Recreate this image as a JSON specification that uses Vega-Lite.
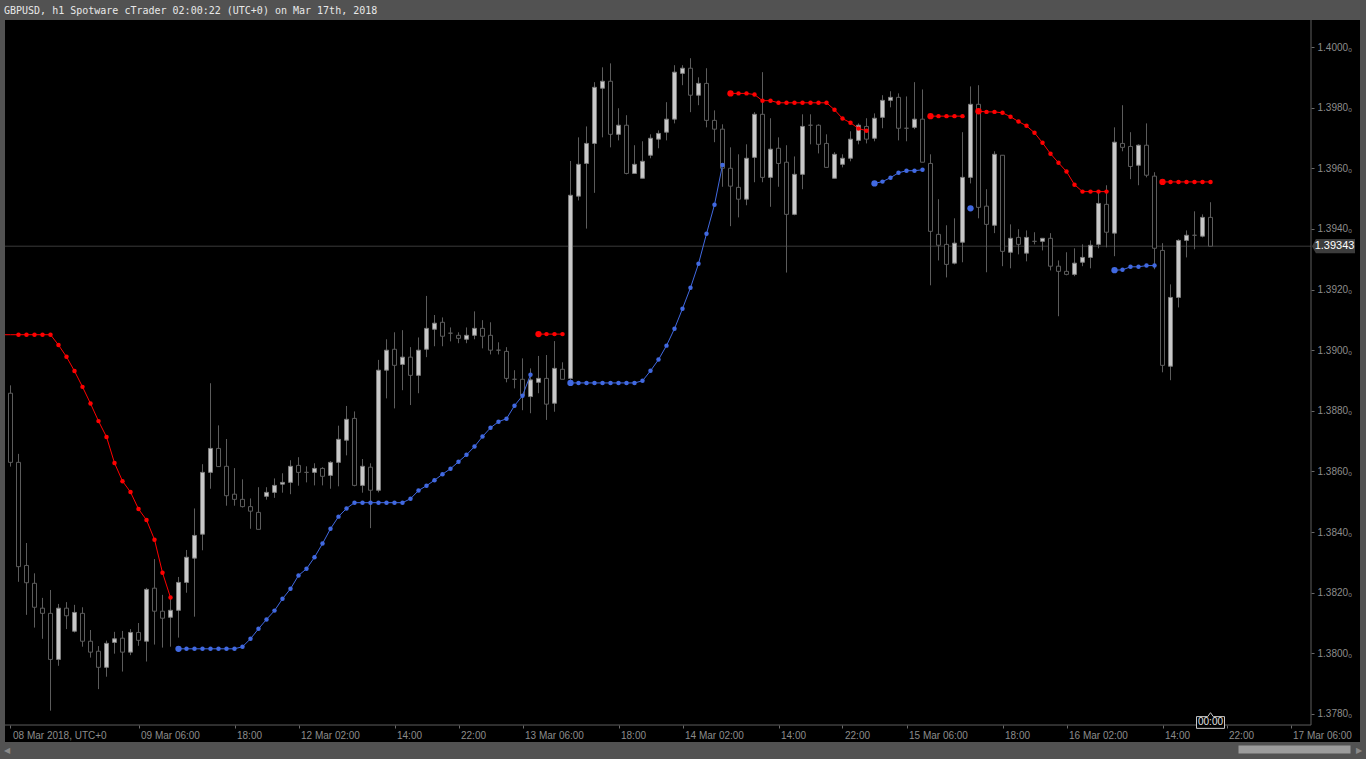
{
 "$schema": "https://vega.github.io/schema/vega-lite/v6.json",
 "width": 1355,
 "height": 722,
 "autosize": {"type": "none"},
 "padding": {"left": 5, "top": 20, "right": 6, "bottom": 17},
 "background": "#525252",
 "config": {"view": {"fill": "#000000", "stroke": null}, "axis": {"grid": false}},
 "title": {"text": "GBPUSD, h1 Spotware cTrader 02:00:22 (UTC+0) on Mar 17th, 2018", "anchor": "start", "frame": "group", "offset": 6, "baseline": "alphabetic", "dx": -1, "dy": 10, "font": "DejaVu Sans Mono", "fontSize": 10, "fontWeight": "normal", "color": "#e8e8e8"},
 "resolve": {"axis": {"x": "independent"}},
 "datasets": {
  "candles": [
   {"i":0,"o":1.38858,"h":1.38884,"l":1.38616,"c":1.38630},
   {"i":1,"o":1.38630,"h":1.38658,"l":1.38236,"c":1.38286},
   {"i":2,"o":1.38290,"h":1.38364,"l":1.38127,"c":1.38233},
   {"i":3,"o":1.38231,"h":1.38264,"l":1.38085,"c":1.38152},
   {"i":4,"o":1.38149,"h":1.38183,"l":1.38048,"c":1.38132},
   {"i":5,"o":1.38132,"h":1.38209,"l":1.37811,"c":1.37980},
   {"i":6,"o":1.37980,"h":1.38163,"l":1.37959,"c":1.38149},
   {"i":7,"o":1.38149,"h":1.38169,"l":1.38080,"c":1.38124},
   {"i":8,"o":1.38073,"h":1.38160,"l":1.38069,"c":1.38135},
   {"i":9,"o":1.38132,"h":1.38152,"l":1.38022,"c":1.38040},
   {"i":10,"o":1.38040,"h":1.38077,"l":1.37986,"c":1.38004},
   {"i":11,"o":1.38007,"h":1.38024,"l":1.37882,"c":1.37954},
   {"i":12,"o":1.37954,"h":1.38042,"l":1.37923,"c":1.38033},
   {"i":13,"o":1.38036,"h":1.38071,"l":1.37999,"c":1.38048},
   {"i":14,"o":1.38050,"h":1.38074,"l":1.37940,"c":1.38004},
   {"i":15,"o":1.38004,"h":1.38080,"l":1.37994,"c":1.38069},
   {"i":16,"o":1.38069,"h":1.38100,"l":1.38025,"c":1.38043},
   {"i":17,"o":1.38040,"h":1.38216,"l":1.37973,"c":1.38211},
   {"i":18,"o":1.38215,"h":1.38311,"l":1.38029,"c":1.38139},
   {"i":19,"o":1.38139,"h":1.38193,"l":1.38019,"c":1.38116},
   {"i":20,"o":1.38119,"h":1.38182,"l":1.38022,"c":1.38142},
   {"i":21,"o":1.38142,"h":1.38252,"l":1.38052,"c":1.38234},
   {"i":22,"o":1.38234,"h":1.38341,"l":1.38200,"c":1.38317},
   {"i":23,"o":1.38314,"h":1.38478,"l":1.38121,"c":1.38389},
   {"i":24,"o":1.38393,"h":1.38624,"l":1.38340,"c":1.38597},
   {"i":25,"o":1.38597,"h":1.38891,"l":1.38543,"c":1.38676},
   {"i":26,"o":1.38676,"h":1.38752,"l":1.38615,"c":1.38616},
   {"i":27,"o":1.38617,"h":1.38707,"l":1.38487,"c":1.38520},
   {"i":28,"o":1.38525,"h":1.38611,"l":1.38487,"c":1.38508},
   {"i":29,"o":1.38508,"h":1.38574,"l":1.38481,"c":1.38484},
   {"i":30,"o":1.38484,"h":1.38511,"l":1.38411,"c":1.38469},
   {"i":31,"o":1.38465,"h":1.38548,"l":1.38409,"c":1.38409},
   {"i":32,"o":1.38518,"h":1.38548,"l":1.38507,"c":1.38531},
   {"i":33,"o":1.38531,"h":1.38577,"l":1.38513,"c":1.38554},
   {"i":34,"o":1.38558,"h":1.38594,"l":1.38530,"c":1.38564},
   {"i":35,"o":1.38564,"h":1.38637,"l":1.38525,"c":1.38617},
   {"i":36,"o":1.38620,"h":1.38647,"l":1.38553,"c":1.38597},
   {"i":37,"o":1.38597,"h":1.38617,"l":1.38564,"c":1.38597},
   {"i":38,"o":1.38597,"h":1.38627,"l":1.38554,"c":1.38610},
   {"i":39,"o":1.38610,"h":1.38614,"l":1.38554,"c":1.38584},
   {"i":40,"o":1.38587,"h":1.38634,"l":1.38543,"c":1.38630},
   {"i":41,"o":1.38630,"h":1.38751,"l":1.38551,"c":1.38706},
   {"i":42,"o":1.38703,"h":1.38816,"l":1.38653,"c":1.38772},
   {"i":43,"o":1.38775,"h":1.38798,"l":1.38551,"c":1.38554},
   {"i":44,"o":1.38554,"h":1.38641,"l":1.38530,"c":1.38617},
   {"i":45,"o":1.38614,"h":1.38627,"l":1.38413,"c":1.38538},
   {"i":46,"o":1.38538,"h":1.38968,"l":1.38531,"c":1.38934},
   {"i":47,"o":1.38934,"h":1.39036,"l":1.38841,"c":1.39000},
   {"i":48,"o":1.39003,"h":1.39059,"l":1.38808,"c":1.38950},
   {"i":49,"o":1.38953,"h":1.39066,"l":1.38868,"c":1.38977},
   {"i":50,"o":1.38977,"h":1.39010,"l":1.38819,"c":1.38917},
   {"i":51,"o":1.38917,"h":1.39042,"l":1.38858,"c":1.39000},
   {"i":52,"o":1.39003,"h":1.39179,"l":1.38977,"c":1.39072},
   {"i":53,"o":1.39069,"h":1.39116,"l":1.39013,"c":1.39089},
   {"i":54,"o":1.39092,"h":1.39108,"l":1.39013,"c":1.39046},
   {"i":55,"o":1.39056,"h":1.39075,"l":1.39029,"c":1.39056},
   {"i":56,"o":1.39049,"h":1.39059,"l":1.39023,"c":1.39039},
   {"i":57,"o":1.39036,"h":1.39075,"l":1.39023,"c":1.39049},
   {"i":58,"o":1.39049,"h":1.39128,"l":1.39036,"c":1.39072},
   {"i":59,"o":1.39072,"h":1.39099,"l":1.39006,"c":1.39046},
   {"i":60,"o":1.39049,"h":1.39092,"l":1.38986,"c":1.39000},
   {"i":61,"o":1.39000,"h":1.39026,"l":1.38986,"c":1.39000},
   {"i":62,"o":1.38996,"h":1.39010,"l":1.38894,"c":1.38907},
   {"i":63,"o":1.38904,"h":1.38934,"l":1.38874,"c":1.38904},
   {"i":64,"o":1.38904,"h":1.38973,"l":1.38802,"c":1.38851},
   {"i":65,"o":1.38847,"h":1.38940,"l":1.38792,"c":1.38902},
   {"i":66,"o":1.38894,"h":1.38981,"l":1.38858,"c":1.38907},
   {"i":67,"o":1.38907,"h":1.38984,"l":1.38770,"c":1.38822},
   {"i":68,"o":1.38825,"h":1.39030,"l":1.38797,"c":1.38940},
   {"i":69,"o":1.38937,"h":1.38960,"l":1.38904,"c":1.38904},
   {"i":70,"o":1.38907,"h":1.39624,"l":1.38902,"c":1.39511},
   {"i":71,"o":1.39508,"h":1.39702,"l":1.39494,"c":1.39613},
   {"i":72,"o":1.39616,"h":1.39738,"l":1.39401,"c":1.39682},
   {"i":73,"o":1.39682,"h":1.39884,"l":1.39519,"c":1.39867},
   {"i":74,"o":1.39864,"h":1.39933,"l":1.39702,"c":1.39887},
   {"i":75,"o":1.39887,"h":1.39946,"l":1.39669,"c":1.39712},
   {"i":76,"o":1.39712,"h":1.39798,"l":1.39692,"c":1.39742},
   {"i":77,"o":1.39742,"h":1.39775,"l":1.39580,"c":1.39583},
   {"i":78,"o":1.39583,"h":1.39676,"l":1.39583,"c":1.39613},
   {"i":79,"o":1.39567,"h":1.39689,"l":1.39567,"c":1.39623},
   {"i":80,"o":1.39643,"h":1.39712,"l":1.39633,"c":1.39699},
   {"i":81,"o":1.39696,"h":1.39725,"l":1.39666,"c":1.39715},
   {"i":82,"o":1.39719,"h":1.39818,"l":1.39692,"c":1.39762},
   {"i":83,"o":1.39762,"h":1.39940,"l":1.39748,"c":1.39917},
   {"i":84,"o":1.39913,"h":1.39940,"l":1.39874,"c":1.39930},
   {"i":85,"o":1.39930,"h":1.39963,"l":1.39785,"c":1.39841},
   {"i":86,"o":1.39841,"h":1.39900,"l":1.39808,"c":1.39880},
   {"i":87,"o":1.39880,"h":1.39930,"l":1.39735,"c":1.39758},
   {"i":88,"o":1.39758,"h":1.39791,"l":1.39686,"c":1.39729},
   {"i":89,"o":1.39729,"h":1.39745,"l":1.39539,"c":1.39600},
   {"i":90,"o":1.39600,"h":1.39669,"l":1.39409,"c":1.39541},
   {"i":91,"o":1.39537,"h":1.39646,"l":1.39438,"c":1.39498},
   {"i":92,"o":1.39498,"h":1.39679,"l":1.39478,"c":1.39633},
   {"i":93,"o":1.39636,"h":1.39785,"l":1.39554,"c":1.39778},
   {"i":94,"o":1.39778,"h":1.39917,"l":1.39554,"c":1.39570},
   {"i":95,"o":1.39570,"h":1.39765,"l":1.39473,"c":1.39663},
   {"i":96,"o":1.39666,"h":1.39702,"l":1.39539,"c":1.39616},
   {"i":97,"o":1.39620,"h":1.39676,"l":1.39256,"c":1.39448},
   {"i":98,"o":1.39448,"h":1.39639,"l":1.39445,"c":1.39580},
   {"i":99,"o":1.39580,"h":1.39778,"l":1.39531,"c":1.39738},
   {"i":100,"o":1.39742,"h":1.39778,"l":1.39679,"c":1.39742},
   {"i":101,"o":1.39742,"h":1.39745,"l":1.39649,"c":1.39679},
   {"i":102,"o":1.39682,"h":1.39712,"l":1.39603,"c":1.39603},
   {"i":103,"o":1.39567,"h":1.39653,"l":1.39567,"c":1.39646},
   {"i":104,"o":1.39613,"h":1.39646,"l":1.39603,"c":1.39633},
   {"i":105,"o":1.39633,"h":1.39722,"l":1.39623,"c":1.39696},
   {"i":106,"o":1.39692,"h":1.39748,"l":1.39679,"c":1.39742},
   {"i":107,"o":1.39738,"h":1.39765,"l":1.39682,"c":1.39696},
   {"i":108,"o":1.39699,"h":1.39781,"l":1.39689,"c":1.39765},
   {"i":109,"o":1.39768,"h":1.39841,"l":1.39732,"c":1.39824},
   {"i":110,"o":1.39824,"h":1.39854,"l":1.39801,"c":1.39834},
   {"i":111,"o":1.39834,"h":1.39847,"l":1.39692,"c":1.39732},
   {"i":112,"o":1.39732,"h":1.39837,"l":1.39689,"c":1.39732},
   {"i":113,"o":1.39735,"h":1.39884,"l":1.39729,"c":1.39762},
   {"i":114,"o":1.39762,"h":1.39860,"l":1.39620,"c":1.39620},
   {"i":115,"o":1.39616,"h":1.39646,"l":1.39214,"c":1.39392},
   {"i":116,"o":1.39382,"h":1.39498,"l":1.39296,"c":1.39346},
   {"i":117,"o":1.39349,"h":1.39412,"l":1.39240,"c":1.39283},
   {"i":118,"o":1.39287,"h":1.39435,"l":1.39283,"c":1.39353},
   {"i":119,"o":1.39356,"h":1.39719,"l":1.39290,"c":1.39570},
   {"i":120,"o":1.39570,"h":1.39870,"l":1.39550,"c":1.39811},
   {"i":121,"o":1.39811,"h":1.39874,"l":1.39435,"c":1.39471},
   {"i":122,"o":1.39475,"h":1.39531,"l":1.39257,"c":1.39415},
   {"i":123,"o":1.39412,"h":1.39656,"l":1.39386,"c":1.39646},
   {"i":124,"o":1.39643,"h":1.39643,"l":1.39277,"c":1.39326},
   {"i":125,"o":1.39323,"h":1.39415,"l":1.39270,"c":1.39369},
   {"i":126,"o":1.39372,"h":1.39399,"l":1.39316,"c":1.39349},
   {"i":127,"o":1.39320,"h":1.39395,"l":1.39293,"c":1.39372},
   {"i":128,"o":1.39359,"h":1.39389,"l":1.39349,"c":1.39359},
   {"i":129,"o":1.39359,"h":1.39369,"l":1.39329,"c":1.39369},
   {"i":130,"o":1.39369,"h":1.39386,"l":1.39263,"c":1.39277},
   {"i":131,"o":1.39277,"h":1.39296,"l":1.39112,"c":1.39260},
   {"i":132,"o":1.39260,"h":1.39323,"l":1.39247,"c":1.39250},
   {"i":133,"o":1.39250,"h":1.39336,"l":1.39244,"c":1.39287},
   {"i":134,"o":1.39290,"h":1.39349,"l":1.39277,"c":1.39306},
   {"i":135,"o":1.39306,"h":1.39362,"l":1.39270,"c":1.39346},
   {"i":136,"o":1.39349,"h":1.39521,"l":1.39336,"c":1.39484},
   {"i":137,"o":1.39481,"h":1.39544,"l":1.39339,"c":1.39389},
   {"i":138,"o":1.39386,"h":1.39735,"l":1.39310,"c":1.39686},
   {"i":139,"o":1.39682,"h":1.39808,"l":1.39656,"c":1.39669},
   {"i":140,"o":1.39672,"h":1.39719,"l":1.39564,"c":1.39606},
   {"i":141,"o":1.39610,"h":1.39679,"l":1.39544,"c":1.39676},
   {"i":142,"o":1.39676,"h":1.39748,"l":1.39570,"c":1.39577},
   {"i":143,"o":1.39574,"h":1.39587,"l":1.39267,"c":1.39336},
   {"i":144,"o":1.39329,"h":1.39353,"l":1.38927,"c":1.38950},
   {"i":145,"o":1.38947,"h":1.39217,"l":1.38901,"c":1.39174},
   {"i":146,"o":1.39174,"h":1.39366,"l":1.39141,"c":1.39362},
   {"i":147,"o":1.39362,"h":1.39395,"l":1.39306,"c":1.39379},
   {"i":148,"o":1.39379,"h":1.39458,"l":1.39333,"c":1.39379},
   {"i":149,"o":1.39376,"h":1.39448,"l":1.39372,"c":1.39438},
   {"i":150,"o":1.39438,"h":1.39488,"l":1.39343,"c":1.39343}
  ],
  "ind": [
   {"i":-1,"v":1.39051,"seg":"A","kind":"res"},{"i":0,"v":1.39051,"seg":"A","kind":"res"},
   {"i":1,"v":1.39051,"seg":"A","kind":"res"},{"i":2,"v":1.39051,"seg":"A","kind":"res"},
   {"i":3,"v":1.39051,"seg":"A","kind":"res"},{"i":4,"v":1.39051,"seg":"A","kind":"res"},
   {"i":5,"v":1.39051,"seg":"A","kind":"res"},{"i":6,"v":1.39017,"seg":"A","kind":"res"},
   {"i":7,"v":1.38978,"seg":"A","kind":"res"},{"i":8,"v":1.38931,"seg":"A","kind":"res"},
   {"i":9,"v":1.38879,"seg":"A","kind":"res"},{"i":10,"v":1.38824,"seg":"A","kind":"res"},
   {"i":11,"v":1.38766,"seg":"A","kind":"res"},{"i":12,"v":1.38714,"seg":"A","kind":"res"},
   {"i":13,"v":1.38628,"seg":"A","kind":"res"},{"i":14,"v":1.38568,"seg":"A","kind":"res"},
   {"i":15,"v":1.38532,"seg":"A","kind":"res"},{"i":16,"v":1.38476,"seg":"A","kind":"res"},
   {"i":17,"v":1.38440,"seg":"A","kind":"res"},{"i":18,"v":1.38375,"seg":"A","kind":"res"},
   {"i":19,"v":1.38266,"seg":"A","kind":"res"},{"i":20,"v":1.38184,"seg":"A","kind":"res"},
   {"i":21,"v":1.38015,"seg":"B","kind":"sup"},{"i":22,"v":1.38015,"seg":"B","kind":"sup"},
   {"i":23,"v":1.38015,"seg":"B","kind":"sup"},{"i":24,"v":1.38015,"seg":"B","kind":"sup"},
   {"i":25,"v":1.38015,"seg":"B","kind":"sup"},{"i":26,"v":1.38015,"seg":"B","kind":"sup"},
   {"i":27,"v":1.38015,"seg":"B","kind":"sup"},{"i":28,"v":1.38015,"seg":"B","kind":"sup"},
   {"i":29,"v":1.38022,"seg":"B","kind":"sup"},{"i":30,"v":1.38048,"seg":"B","kind":"sup"},
   {"i":31,"v":1.38081,"seg":"B","kind":"sup"},{"i":32,"v":1.38112,"seg":"B","kind":"sup"},
   {"i":33,"v":1.38141,"seg":"B","kind":"sup"},{"i":34,"v":1.38180,"seg":"B","kind":"sup"},
   {"i":35,"v":1.38213,"seg":"B","kind":"sup"},{"i":36,"v":1.38257,"seg":"B","kind":"sup"},
   {"i":37,"v":1.38279,"seg":"B","kind":"sup"},{"i":38,"v":1.38317,"seg":"B","kind":"sup"},
   {"i":39,"v":1.38362,"seg":"B","kind":"sup"},{"i":40,"v":1.38411,"seg":"B","kind":"sup"},
   {"i":41,"v":1.38451,"seg":"B","kind":"sup"},{"i":42,"v":1.38478,"seg":"B","kind":"sup"},
   {"i":43,"v":1.38497,"seg":"B","kind":"sup"},{"i":44,"v":1.38497,"seg":"B","kind":"sup"},
   {"i":45,"v":1.38497,"seg":"B","kind":"sup"},{"i":46,"v":1.38497,"seg":"B","kind":"sup"},
   {"i":47,"v":1.38497,"seg":"B","kind":"sup"},{"i":48,"v":1.38497,"seg":"B","kind":"sup"},
   {"i":49,"v":1.38497,"seg":"B","kind":"sup"},{"i":50,"v":1.38510,"seg":"B","kind":"sup"},
   {"i":51,"v":1.38537,"seg":"B","kind":"sup"},{"i":52,"v":1.38553,"seg":"B","kind":"sup"},
   {"i":53,"v":1.38571,"seg":"B","kind":"sup"},{"i":54,"v":1.38591,"seg":"B","kind":"sup"},
   {"i":55,"v":1.38609,"seg":"B","kind":"sup"},{"i":56,"v":1.38632,"seg":"B","kind":"sup"},
   {"i":57,"v":1.38655,"seg":"B","kind":"sup"},{"i":58,"v":1.38682,"seg":"B","kind":"sup"},
   {"i":59,"v":1.38715,"seg":"B","kind":"sup"},{"i":60,"v":1.38744,"seg":"B","kind":"sup"},
   {"i":61,"v":1.38764,"seg":"B","kind":"sup"},{"i":62,"v":1.38774,"seg":"B","kind":"sup"},
   {"i":63,"v":1.38817,"seg":"B","kind":"sup"},{"i":64,"v":1.38850,"seg":"B","kind":"sup"},
   {"i":65,"v":1.38919,"seg":"B","kind":"sup"},
   {"i":66,"v":1.39053,"seg":"C","kind":"res"},{"i":67,"v":1.39053,"seg":"C","kind":"res"},
   {"i":68,"v":1.39053,"seg":"C","kind":"res"},{"i":69,"v":1.39053,"seg":"C","kind":"res"},
   {"i":70,"v":1.38892,"seg":"D","kind":"sup"},{"i":71,"v":1.38892,"seg":"D","kind":"sup"},
   {"i":72,"v":1.38892,"seg":"D","kind":"sup"},{"i":73,"v":1.38892,"seg":"D","kind":"sup"},
   {"i":74,"v":1.38892,"seg":"D","kind":"sup"},{"i":75,"v":1.38892,"seg":"D","kind":"sup"},
   {"i":76,"v":1.38892,"seg":"D","kind":"sup"},{"i":77,"v":1.38892,"seg":"D","kind":"sup"},
   {"i":78,"v":1.38892,"seg":"D","kind":"sup"},{"i":79,"v":1.38899,"seg":"D","kind":"sup"},
   {"i":80,"v":1.38932,"seg":"D","kind":"sup"},{"i":81,"v":1.38969,"seg":"D","kind":"sup"},
   {"i":82,"v":1.39015,"seg":"D","kind":"sup"},{"i":83,"v":1.39071,"seg":"D","kind":"sup"},
   {"i":84,"v":1.39137,"seg":"D","kind":"sup"},{"i":85,"v":1.39206,"seg":"D","kind":"sup"},
   {"i":86,"v":1.39285,"seg":"D","kind":"sup"},{"i":87,"v":1.39384,"seg":"D","kind":"sup"},
   {"i":88,"v":1.39480,"seg":"D","kind":"sup"},{"i":89,"v":1.39611,"seg":"D","kind":"sup"},
   {"i":90,"v":1.39847,"seg":"E","kind":"res"},{"i":91,"v":1.39847,"seg":"E","kind":"res"},
   {"i":92,"v":1.39847,"seg":"E","kind":"res"},{"i":93,"v":1.39843,"seg":"E","kind":"res"},
   {"i":94,"v":1.39823,"seg":"E","kind":"res"},{"i":95,"v":1.39823,"seg":"E","kind":"res"},
   {"i":96,"v":1.39816,"seg":"E","kind":"res"},{"i":97,"v":1.39816,"seg":"E","kind":"res"},
   {"i":98,"v":1.39816,"seg":"E","kind":"res"},{"i":99,"v":1.39816,"seg":"E","kind":"res"},
   {"i":100,"v":1.39816,"seg":"E","kind":"res"},{"i":101,"v":1.39816,"seg":"E","kind":"res"},
   {"i":102,"v":1.39816,"seg":"E","kind":"res"},{"i":103,"v":1.39793,"seg":"E","kind":"res"},
   {"i":104,"v":1.39764,"seg":"E","kind":"res"},{"i":105,"v":1.39750,"seg":"E","kind":"res"},
   {"i":106,"v":1.39731,"seg":"E","kind":"res"},{"i":107,"v":1.39724,"seg":"E","kind":"res"},
   {"i":108,"v":1.39550,"seg":"F","kind":"sup"},{"i":109,"v":1.39556,"seg":"F","kind":"sup"},
   {"i":110,"v":1.39569,"seg":"F","kind":"sup"},{"i":111,"v":1.39585,"seg":"F","kind":"sup"},
   {"i":112,"v":1.39592,"seg":"F","kind":"sup"},{"i":113,"v":1.39592,"seg":"F","kind":"sup"},
   {"i":114,"v":1.39595,"seg":"F","kind":"sup"},
   {"i":115,"v":1.39772,"seg":"G","kind":"res"},{"i":116,"v":1.39772,"seg":"G","kind":"res"},
   {"i":117,"v":1.39772,"seg":"G","kind":"res"},{"i":118,"v":1.39772,"seg":"G","kind":"res"},
   {"i":119,"v":1.39772,"seg":"G","kind":"res"},
   {"i":120,"v":1.39468,"seg":"H","kind":"sup"},
   {"i":121,"v":1.39788,"seg":"I","kind":"res"},{"i":122,"v":1.39786,"seg":"I","kind":"res"},
   {"i":123,"v":1.39786,"seg":"I","kind":"res"},{"i":124,"v":1.39783,"seg":"I","kind":"res"},
   {"i":125,"v":1.39770,"seg":"I","kind":"res"},{"i":126,"v":1.39754,"seg":"I","kind":"res"},
   {"i":127,"v":1.39740,"seg":"I","kind":"res"},{"i":128,"v":1.39717,"seg":"I","kind":"res"},
   {"i":129,"v":1.39684,"seg":"I","kind":"res"},{"i":130,"v":1.39648,"seg":"I","kind":"res"},
   {"i":131,"v":1.39618,"seg":"I","kind":"res"},{"i":132,"v":1.39589,"seg":"I","kind":"res"},
   {"i":133,"v":1.39546,"seg":"I","kind":"res"},{"i":134,"v":1.39523,"seg":"I","kind":"res"},
   {"i":135,"v":1.39523,"seg":"I","kind":"res"},{"i":136,"v":1.39523,"seg":"I","kind":"res"},
   {"i":137,"v":1.39523,"seg":"I","kind":"res"},
   {"i":138,"v":1.39264,"seg":"J","kind":"sup"},{"i":139,"v":1.39265,"seg":"J","kind":"sup"},
   {"i":140,"v":1.39275,"seg":"J","kind":"sup"},{"i":141,"v":1.39275,"seg":"J","kind":"sup"},
   {"i":142,"v":1.39279,"seg":"J","kind":"sup"},{"i":143,"v":1.39279,"seg":"J","kind":"sup"},
   {"i":144,"v":1.39555,"seg":"K","kind":"res"},{"i":145,"v":1.39555,"seg":"K","kind":"res"},
   {"i":146,"v":1.39555,"seg":"K","kind":"res"},{"i":147,"v":1.39555,"seg":"K","kind":"res"},
   {"i":148,"v":1.39555,"seg":"K","kind":"res"},{"i":149,"v":1.39555,"seg":"K","kind":"res"},
   {"i":150,"v":1.39555,"seg":"K","kind":"res"}
  ]
 },
 "layer": [
  {
   "data": {"values": [{"price": 1.39343}]},
   "mark": {"type": "rule", "color": "#3a3a3a", "strokeWidth": 1},
   "encoding": {
    "y": {"field": "price", "type": "quantitative", "scale": {"domain": [1.3770763, 1.4008906], "nice": false, "zero": false, "padding": 0},
     "axis": {"orient": "right", "offset": -49, "values": [1.378,1.379,1.38,1.381,1.382,1.383,1.384,1.385,1.386,1.387,1.388,1.389,1.39,1.391,1.392,1.393,1.394,1.395,1.396,1.397,1.398,1.399,1.4],
      "labelExpr": "format(datum.value, '.4f') + '₀'", "domain": false, "grid": false, "tickSize": 3, "tickColor": "#6a6a6a", "labelPadding": 3,
      "labelAlign": "left", "labelBaseline": "middle", "labelColor": "#8c8c8c", "labelFont": "Liberation Sans", "labelFontSize": 10, "labelOverlap": false, "labelBound": false, "labelFlush": false, "title": null}},
    "x": {"datum": -0.6875, "type": "quantitative", "scale": {"domain": [-0.6875, 168.6875], "nice": false, "zero": false, "padding": 0},
     "axis": {"orient": "bottom", "offset": -17, "values": [0,16,28,36,48,56,64,76,84,96,104,112,124,132,144,152,160],
      "labelExpr": "['08 Mar 2018, UTC+0','09 Mar 06:00','18:00','12 Mar 02:00','14:00','22:00','13 Mar 06:00','18:00','14 Mar 02:00','14:00','22:00','15 Mar 06:00','18:00','16 Mar 02:00','14:00','22:00','17 Mar 06:00'][indexof([0,16,28,36,48,56,64,76,84,96,104,112,124,132,144,152,160], datum.value)]",
      "domain": false, "grid": false, "tickSize": 3, "tickColor": "#6a6a6a", "labelPadding": 2, "labelAlign": "left", "labelOffset": 2,
      "labelColor": "#8c8c8c", "labelFont": "Liberation Sans", "labelFontSize": 10, "labelOverlap": false, "labelBound": false, "labelFlush": false, "title": null}},
    "x2": {"datum": 162.5625}
   }
  },
  {
   "data": {"values": [{"thumb": 160.44}]},
   "mark": {"type": "point", "opacity": 0},
   "encoding": {
    "x": {"field": "thumb", "type": "quantitative",
     "axis": {"orient": "bottom", "offset": 3, "values": [-0.45, 160.44, 168.45], "domain": false, "grid": false, "ticks": true, "tickSize": 8,
      "tickWidth": {"condition": {"test": "datum.value > 100 && datum.value < 165", "value": 112}, "value": 0},
      "tickColor": "#9c9c9c", "labels": true,
      "labelExpr": "datum.value < 0 ? '◀' : (datum.value > 165 ? '▶' : '')",
      "labelColor": "#8a8a8a", "labelFontSize": 8, "labelPadding": -3, "labelBaseline": "middle", "labelAlign": "center", "labelBound": false, "labelFlush": false, "labelOverlap": false, "title": null}},
    "y": {"datum": 1.39, "type": "quantitative"}
   }
  },
  {
   "data": {"name": "candles"},
   "mark": {"type": "rule", "color": "#5c5c5c", "strokeWidth": 1},
   "encoding": {
    "x": {"field": "i", "type": "quantitative", "axis": null},
    "y": {"field": "l", "type": "quantitative"},
    "y2": {"field": "h"}
   }
  },
  {
   "data": {"name": "candles"},
   "mark": {"type": "bar", "size": 4, "strokeWidth": 1},
   "encoding": {
    "x": {"field": "i", "type": "quantitative", "axis": null},
    "y": {"field": "o", "type": "quantitative"},
    "y2": {"field": "c"},
    "fill": {"condition": {"test": "datum.c > datum.o", "value": "#c8c8c8"}, "value": "#000000"},
    "stroke": {"condition": {"test": "datum.c > datum.o", "value": "#7c7c7c"}, "value": "#5c5c5c"}
   }
  },
  {
   "data": {"name": "ind"},
   "mark": {"type": "line", "strokeWidth": 1, "clip": true},
   "encoding": {
    "x": {"field": "i", "type": "quantitative", "axis": null},
    "y": {"field": "v", "type": "quantitative"},
    "detail": {"field": "seg"},
    "color": {"field": "kind", "type": "nominal", "scale": {"domain": ["res", "sup"], "range": ["#ff0000", "#4169e1"]}, "legend": null}
   }
  },
  {
   "data": {"name": "ind"},
   "transform": [
    {"window": [{"op": "row_number", "as": "rn"}], "groupby": ["seg"], "sort": [{"field": "i"}]},
    {"filter": "datum.i >= 1"}
   ],
   "mark": {"type": "point", "filled": true, "shape": "circle", "opacity": 1},
   "encoding": {
    "x": {"field": "i", "type": "quantitative", "axis": null},
    "y": {"field": "v", "type": "quantitative"},
    "color": {"field": "kind", "type": "nominal", "legend": null},
    "size": {"condition": {"test": "datum.rn == 1", "value": 40}, "value": 20}
   }
  },
  {
   "data": {"values": [{"edge": "y"}]},
   "mark": {"type": "rule", "color": "#5e5e5e", "strokeWidth": 1},
   "encoding": {
    "x": {"datum": 162.5625, "type": "quantitative", "axis": null},
    "y": {"datum": 1.4008906, "type": "quantitative"},
    "y2": {"datum": 1.3776363}
   }
  },
  {
   "data": {"values": [{"edge": "x"}]},
   "mark": {"type": "rule", "color": "#5e5e5e", "strokeWidth": 1},
   "encoding": {
    "y": {"datum": 1.3776363, "type": "quantitative"},
    "x": {"datum": -0.6875, "type": "quantitative", "axis": null},
    "x2": {"datum": 162.5625}
   }
  },
  {
   "data": {"values": [{"price": 1.39343, "label": "1.39343"}]},
   "layer": [
    {
     "mark": {"type": "point", "filled": true, "opacity": 1, "color": "#3c3c3c", "size": 1849, "shape": "M -1 0 L -0.82 -0.33 L 1 -0.33 L 1 0.33 L -0.82 0.33 Z"},
     "encoding": {
      "x": {"datum": 165.375, "type": "quantitative", "axis": null},
      "y": {"field": "price", "type": "quantitative"}
     }
    },
    {
     "mark": {"type": "text", "color": "#ffffff", "font": "Liberation Sans", "fontSize": 11, "align": "center", "baseline": "middle", "dx": 1},
     "encoding": {
      "x": {"datum": 165.375, "type": "quantitative", "axis": null},
      "y": {"field": "price", "type": "quantitative"},
      "text": {"field": "label"}
     }
    }
   ]
  },
  {
   "data": {"values": [{"i": 150, "label": "00:00"}]},
   "layer": [
    {
     "mark": {"type": "point", "filled": true, "opacity": 1, "fill": "#000000", "stroke": "#c8c8c8", "strokeWidth": 1, "size": 784, "shape": "M -1 -0.42 L -0.2 -0.42 L 0 -0.7 L 0.2 -0.42 L 1 -0.42 L 1 0.42 L -1 0.42 Z"},
     "encoding": {
      "x": {"field": "i", "type": "quantitative", "axis": null},
      "y": {"datum": 1.37772, "type": "quantitative"}
     }
    },
    {
     "mark": {"type": "text", "color": "#e0e0e0", "font": "Liberation Sans", "fontSize": 10, "align": "center", "baseline": "middle"},
     "encoding": {
      "x": {"field": "i", "type": "quantitative", "axis": null},
      "y": {"datum": 1.37772, "type": "quantitative"},
      "text": {"field": "label"}
     }
    }
   ]
  }
 ]
}
